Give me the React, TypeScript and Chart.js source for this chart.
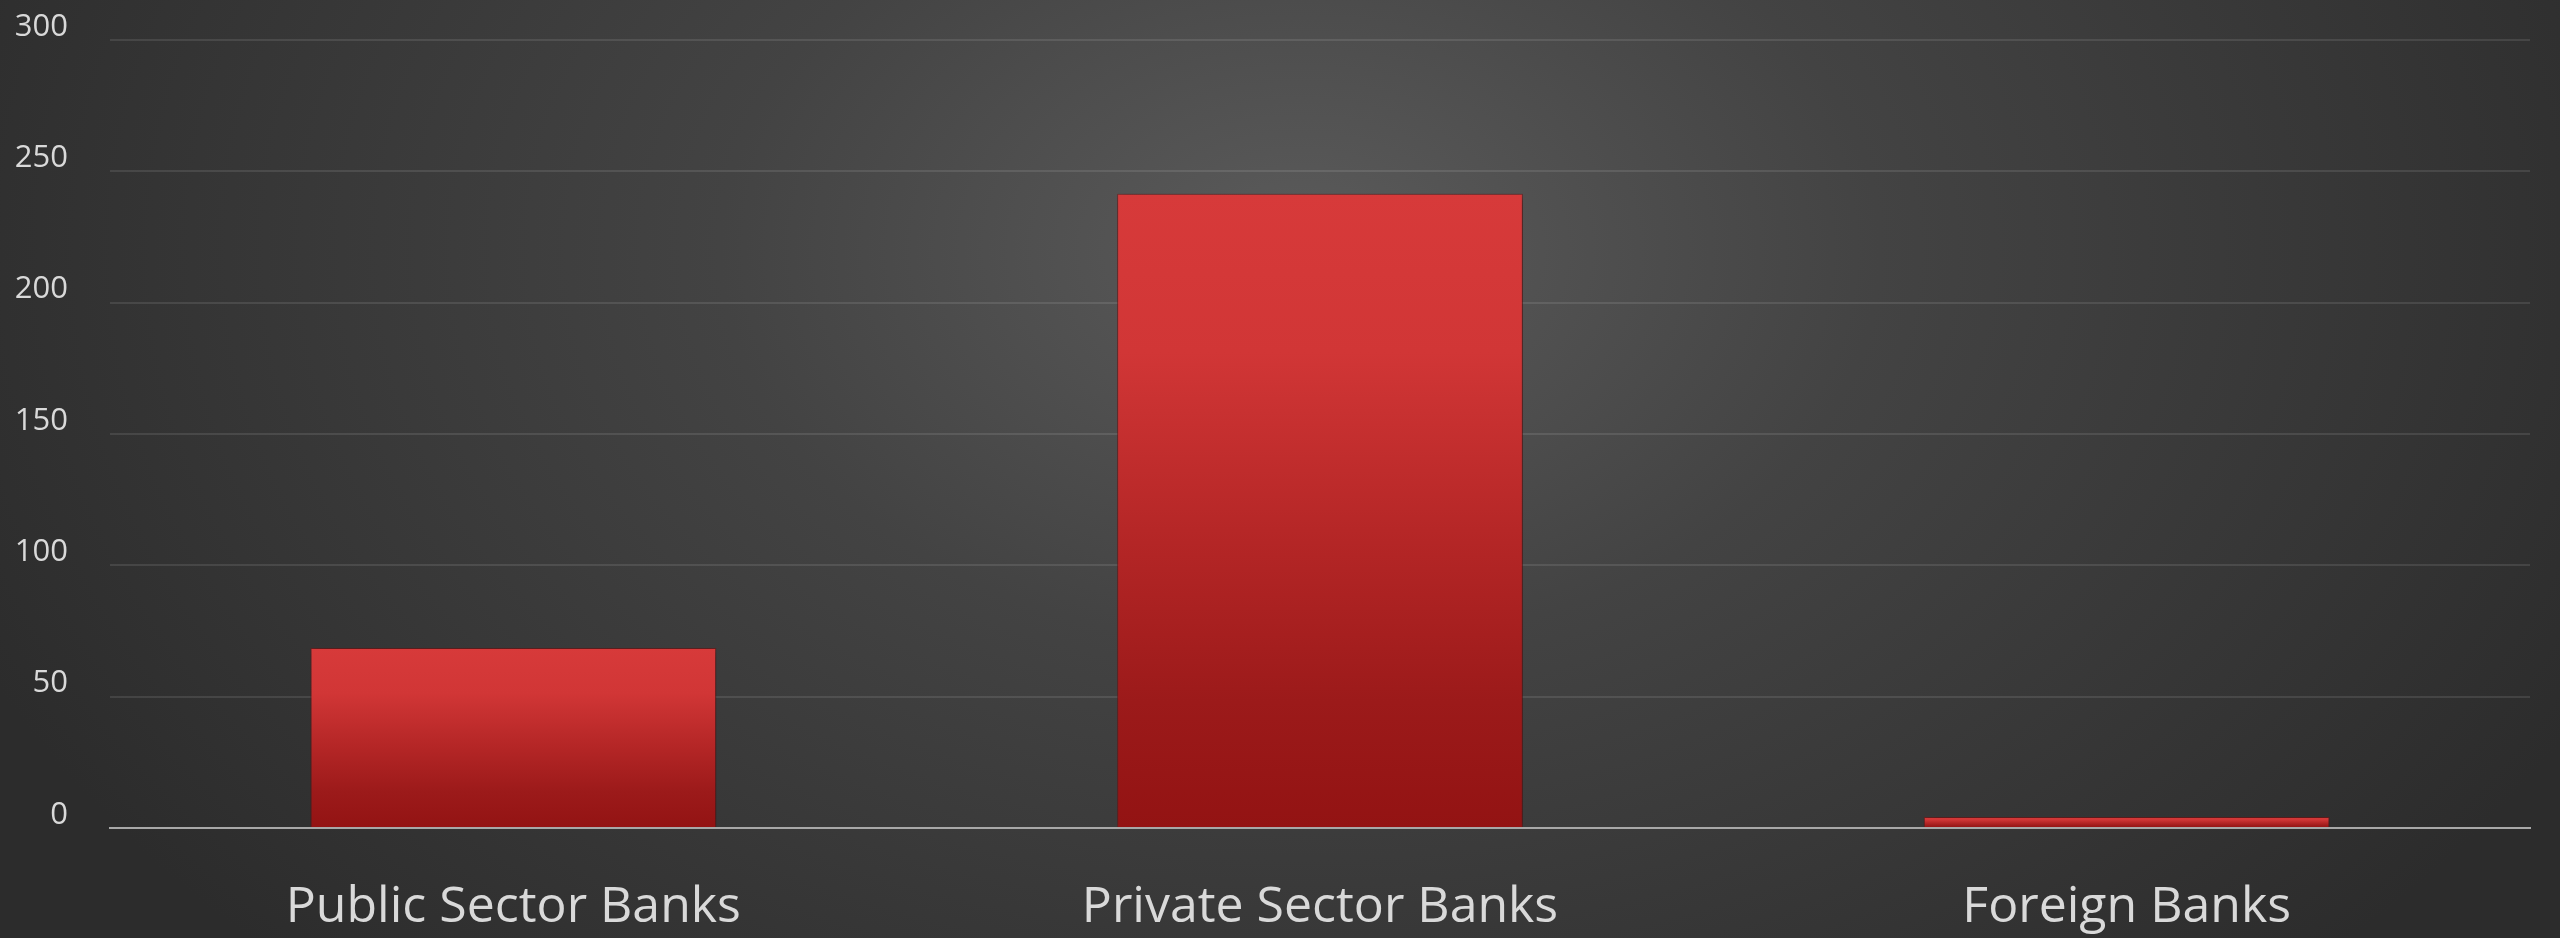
import { useEffect, useRef } from 'react';
import { Chart, registerables } from 'chart.js';

Chart.register(...registerables);

// Number of banks per group
const categories = ['Public Sector Banks', 'Private Sector Banks', 'Foreign Banks'];
const bankCounts = [68.5, 241.5, 4.2];
const yMin = 0;
const yMax = 300;
const yStep = 50;

const FONT = '"Open Sans", "Noto Sans", sans-serif';

// Soft drop shadow behind the bars
const barShadow = {
  id: 'barShadow',
  beforeDatasetsDraw(chart: any) {
    const c = chart.ctx;
    c.save();
    c.shadowColor = 'rgba(0,0,0,0.45)';
    c.shadowBlur = 10;
    c.shadowOffsetX = 2;
    c.shadowOffsetY = 2;
  },
  afterDatasetsDraw(chart: any) {
    chart.ctx.restore();
  },
};

export default function App() {
  const canvasRef = useRef<HTMLCanvasElement | null>(null);

  useEffect(() => {
    document.body.style.margin = '0';
    const canvas = canvasRef.current;
    if (!canvas) return;

    const chart = new Chart(canvas, {
      type: 'bar',
      data: {
        labels: categories,
        datasets: [
          {
            data: bankCounts,
            backgroundColor: (ctx: any) => {
              const ch = ctx.chart;
              const y = ch.scales?.y;
              if (!ch.chartArea || !y || ctx.raw == null) return '#d33838';
              const top = y.getPixelForValue(ctx.raw);
              const base = y.getPixelForValue(0);
              const g = ch.ctx.createLinearGradient(0, top, 0, base);
              g.addColorStop(0, '#d73a3a');
              g.addColorStop(0.25, '#d13636');
              g.addColorStop(0.55, '#b42626');
              g.addColorStop(0.8, '#9c1a1a');
              g.addColorStop(1, '#931313');
              return g;
            },
            borderColor: 'rgba(140,20,20,0.6)',
            borderWidth: 1,
            barPercentage: 0.503,
            categoryPercentage: 1,
          },
        ],
      },
      options: {
        animation: false,
        responsive: true,
        maintainAspectRatio: false,
        layout: { padding: { top: 40, right: 30, bottom: 0, left: 0 } },
        plugins: {
          legend: { display: false },
          tooltip: { enabled: false },
        },
        scales: {
          x: {
            z: 1,
            grid: { display: false, drawTicks: false },
            border: { display: true, color: '#a8a8a8', width: 2 },
            ticks: {
              color: '#d9d9d9',
              padding: 50,
              font: { family: FONT, size: 50 },
            },
            afterFit(scale: any) {
              scale.height = 110;
            },
          },
          y: {
            min: yMin,
            max: yMax,
            grid: {
              drawTicks: false,
              color: (ctx: any) =>
                ctx.tick && ctx.tick.value === 0 ? 'rgba(0,0,0,0)' : 'rgba(255,255,255,0.1)',
              lineWidth: 2,
            },
            border: { display: false },
            ticks: {
              stepSize: yStep,
              color: '#d9d9d9',
              padding: 42,
              labelOffset: -13,
              font: { family: FONT, size: 31 },
            },
            afterFit(scale: any) {
              scale.width = 110;
              // the label gap is horizontal only; keep it out of the vertical padding
              scale.paddingTop = 0;
              scale.paddingBottom = 0;
            },
          },
        },
      },
      plugins: [barShadow],
    });

    return () => chart.destroy();
  }, []);

  return (
    <div
      style={{
        position: 'fixed',
        left: 0,
        top: 0,
        width: 2560,
        height: 938,
        background:
          'radial-gradient(ellipse 1450px 1000px at 1300px 250px, #5b5b5b 0%, #434343 40%, #2c2c2c 100%)',
      }}
    >
      <canvas ref={canvasRef} />
    </div>
  );
}
